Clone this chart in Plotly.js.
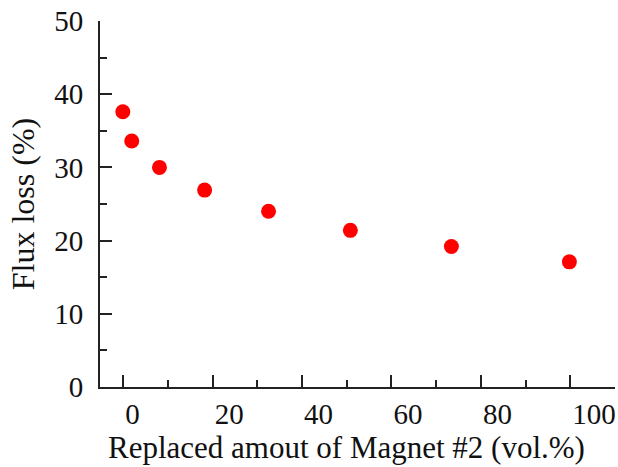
<!DOCTYPE html>
<html>
<head>
<meta charset="utf-8">
<script src="https://cdn.plot.ly/plotly-3.0.1.min.js"></script>
<style>html,body{margin:0;padding:0;background:#fff;}#chart{width:618px;height:467px;}</style>
</head>
<body>
<div id="chart"></div>
<script>
const replacedAmount = [-0.1, 1.9, 8.1, 18.2, 32.5, 50.8, 73.4, 99.8];
const fluxLoss = [37.6, 33.6, 30.0, 26.9, 24.0, 21.4, 19.2, 17.1];
const xTickVals = [0, 20, 40, 60, 80, 100];
const yTickVals = [0, 10, 20, 30, 40, 50];
const xTitle = 'Replaced amout of Magnet #2 (vol.%)';
const yTitle = 'Flux loss (%)';

const font = 'Liberation Serif, Times New Roman, serif';
const axisColor = '#222';

const data = [{
  type: 'scatter',
  mode: 'markers',
  x: replacedAmount,
  y: fluxLoss,
  marker: {color: '#ff0000', size: 15},
  showlegend: false
}];

const layout = {
  width: 618, height: 467,
  paper_bgcolor: '#fff', plot_bgcolor: '#fff',
  margin: {l: 100, r: 3, t: 21, b: 80},
  font: {family: font, color: '#111', size: 30},
  xaxis: {
    range: [-5.2, 110],
    tickvals: xTickVals,
    ticks: 'inside', ticklen: 12, tickwidth: 2, tickcolor: axisColor,
    minor: {ticks: 'inside', ticklen: 7, tickwidth: 2, tickcolor: axisColor, dtick: 10, tick0: 10, showgrid: false},
    ticklabelposition: 'outside right',
    showline: true, linecolor: axisColor, linewidth: 2,
    showgrid: false, zeroline: false,
    tickfont: {family: font, size: 29, color: '#111'}
  },
  yaxis: {
    range: [0, 50],
    tickvals: yTickVals,
    ticks: 'inside', ticklen: 12, tickwidth: 2, tickcolor: axisColor,
    minor: {ticks: 'inside', ticklen: 7, tickwidth: 2, tickcolor: axisColor, dtick: 5, tick0: 5, showgrid: false},
    ticklabelstandoff: 9,
    showline: true, linecolor: axisColor, linewidth: 2,
    showgrid: false, zeroline: false,
    tickfont: {family: font, size: 29, color: '#111'},
    title: {text: yTitle, font: {family: font, size: 32, color: '#111'}, standoff: 10}
  },
  annotations: [{
    text: xTitle, xref: 'paper', yref: 'paper', x: 0.478, y: 0,
    xanchor: 'center', yanchor: 'middle', yshift: -60, showarrow: false,
    font: {family: font, size: 31, color: '#111'}
  }]
};

Plotly.newPlot('chart', data, layout, {displayModeBar: false, staticPlot: true});
</script>
</body>
</html>
